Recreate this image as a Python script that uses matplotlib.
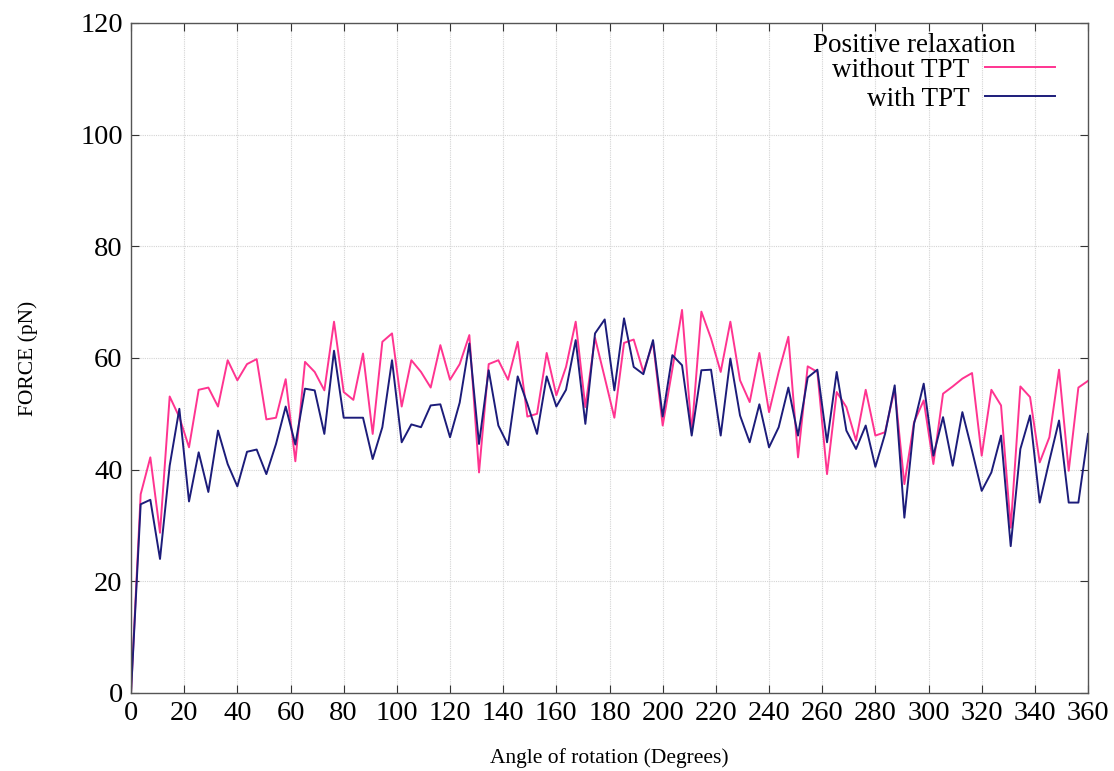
import numpy as np
import matplotlib
matplotlib.use("Agg")
import matplotlib.pyplot as plt

# angle of rotation, 100 samples over one turn
angle = np.linspace(0, 360, 100)

without_tpt = [
    0, 35.6, 42.2, 28.7, 53.1, 49.4, 44.0, 54.3, 54.7, 51.3,
    59.6, 56.0, 58.9, 59.8, 49.0, 49.3, 56.2, 41.5, 59.3, 57.5,
    54.2, 66.5, 53.9, 52.5, 60.8, 46.4, 62.9, 64.4, 51.3, 59.6,
    57.5, 54.7, 62.3, 56.1, 58.9, 64.1, 39.5, 58.9, 59.6, 56.1,
    62.9, 49.5, 50.0, 60.9, 53.3, 58.4, 66.5, 51.2, 63.6, 56.5,
    49.3, 62.7, 63.3, 57.5, 62.8, 47.9, 58.0, 68.6, 46.7, 68.3,
    63.5, 57.5, 66.5, 56.0, 52.1, 60.9, 50.3, 57.5, 63.8, 42.2,
    58.5, 57.5, 39.2, 53.9, 51.2, 45.2, 54.3, 46.1, 46.7, 54.5,
    37.4, 48.5, 52.4, 41.0, 53.6, 54.9, 56.3, 57.3, 42.5, 54.3,
    51.5, 29.6, 54.9, 53.0, 41.3, 45.8, 57.9, 39.8, 54.7, 55.9,
]

with_tpt = [
    0, 33.8, 34.6, 24.0, 40.7, 50.9, 34.3, 43.1, 36.0, 47.0,
    41.0, 37.0, 43.2, 43.6, 39.2, 44.6, 51.3, 44.5, 54.5, 54.2,
    46.4, 61.3, 49.3, 49.3, 49.3, 41.9, 47.6, 59.6, 44.9, 48.1,
    47.6, 51.5, 51.7, 45.8, 52.0, 62.6, 44.6, 57.8, 47.9, 44.4,
    56.7, 51.8, 46.4, 56.7, 51.3, 54.3, 63.2, 48.2, 64.4, 66.9,
    54.2, 67.1, 58.4, 57.1, 63.2, 49.5, 60.5, 58.7, 46.1, 57.8,
    57.9, 46.1, 59.9, 49.7, 44.9, 51.7, 44.0, 47.6, 54.7, 46.1,
    56.5, 57.9, 44.9, 57.5, 47.0, 43.7, 47.9, 40.5, 46.4, 55.1,
    31.4, 48.2, 55.4, 42.5, 49.4, 40.7, 50.3, 43.4, 36.2, 39.5,
    46.1, 26.3, 43.7, 49.7, 34.1, 41.6, 48.8, 34.1, 34.1, 46.4,
]

x_ticks = list(range(0, 361, 20))
y_ticks = list(range(0, 121, 20))

plt.rcParams["font.family"] = ["Liberation Serif", "DejaVu Serif"]

fig = plt.figure(figsize=(11.14, 7.71), dpi=100)
ax = fig.add_axes([0.1176, 0.1012, 0.8591, 0.8690])

ax.plot(angle, without_tpt, color="#ff3490", lw=1.4, label="without TPT")
ax.plot(angle, with_tpt, color="#1c1c7a", lw=1.4, label="with TPT")

ax.set_xlim(0, 360)
ax.set_ylim(0, 120)
ax.set_xticks(x_ticks)
ax.set_yticks(y_ticks)
ax.tick_params(direction="in", length=6, width=0.8, top=True, right=True,
               labelsize=20.5, colors="#333333", labelcolor="black", pad=6)
ax.grid(True, color="#d4d4d4", lw=0.8, ls=(0, (1, 1)))
for s in ax.spines.values():
    s.set_color("#555555")
    s.set_linewidth(1.0)

ax.set_xlabel("Angle of rotation (Degrees)", fontsize=15.5, labelpad=16)
ax.set_ylabel("FORCE (pN)", fontsize=15.5, labelpad=30)

ax.text(0.7126, 0.967, "Positive relaxation", transform=ax.transAxes,
        fontsize=19.5, ha="left", va="center")
ax.legend(loc="upper right", bbox_to_anchor=(0.9655, 0.9484), frameon=False,
          markerfirst=False, fontsize=19.5, handlelength=2.6,
          handletextpad=0.55, labelspacing=0.15, borderaxespad=0.0,
          borderpad=0.0)

fig.savefig("out.png", dpi=100)
